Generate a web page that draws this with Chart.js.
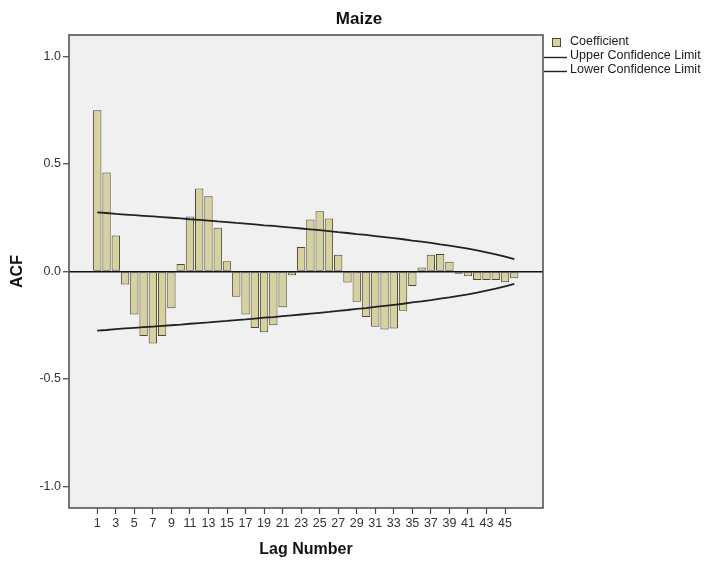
<!DOCTYPE html>
<html>
<head>
<meta charset="utf-8">
<script src="https://cdn.jsdelivr.net/npm/chart.js@4.4.1/dist/chart.umd.min.js"></script>
<style>
  html, body { margin: 0; padding: 0; background: #ffffff; }
  canvas { display: block; }
</style>
</head>
<body>
<canvas id="c" width="705" height="563"></canvas>
<script>
// ---- data ----
const chartTitle = "Maize";
const lags = [1,2,3,4,5,6,7,8,9,10,11,12,13,14,15,16,17,18,19,20,21,22,23,24,25,26,27,28,29,30,31,32,33,34,35,36,37,38,39,40,41,42,43,44,45,46];
const coefficient = [0.75, 0.46, 0.167, -0.06, -0.2, -0.3, -0.335, -0.3, -0.171, 0.035,
  0.256, 0.386, 0.35, 0.203, 0.048, -0.117, -0.2, -0.263, -0.283, -0.25,
  -0.166, -0.018, 0.114, 0.242, 0.28, 0.246, 0.078, -0.051, -0.141, -0.212,
  -0.257, -0.27, -0.265, -0.182, -0.067, 0.019, 0.078, 0.081, 0.045, -0.011,
  -0.022, -0.039, -0.039, -0.039, -0.05, -0.031];
const upperLimit = [0.275, 0.272, 0.268, 0.265, 0.262, 0.259, 0.256, 0.253, 0.250, 0.247,
  0.243, 0.240, 0.237, 0.233, 0.230, 0.226, 0.223, 0.219, 0.215, 0.212,
  0.208, 0.204, 0.200, 0.196, 0.192, 0.188, 0.183, 0.179, 0.174, 0.170,
  0.165, 0.160, 0.155, 0.150, 0.144, 0.139, 0.133, 0.126, 0.120, 0.113,
  0.106, 0.098, 0.089, 0.080, 0.069, 0.058];
const lowerLimit = [-0.275, -0.272, -0.268, -0.265, -0.262, -0.259, -0.256, -0.253, -0.250, -0.247,
  -0.243, -0.240, -0.237, -0.233, -0.230, -0.226, -0.223, -0.219, -0.215, -0.212,
  -0.208, -0.204, -0.200, -0.196, -0.192, -0.188, -0.183, -0.179, -0.174, -0.170,
  -0.165, -0.160, -0.155, -0.150, -0.144, -0.139, -0.133, -0.126, -0.120, -0.113,
  -0.106, -0.098, -0.089, -0.080, -0.069, -0.058];
const xTickValues = [1,3,5,7,9,11,13,15,17,19,21,23,25,27,29,31,33,35,37,39,41,43,45];
const yTickValues = [-1.0, -0.5, 0.0, 0.5, 1.0];
const seriesNames = ["Coefficient", "Upper Confidence Limit", "Lower Confidence Limit"];

// ---- styles ----
const FONT = "'Liberation Sans', Arial, sans-serif";
const BAR_FILL = '#d6d19e';
const BAR_EDGE = '#4a4838';
const LINE_COL = '#222222';

const decorPlugin = {
  id: 'decor',
  beforeDraw(chart) {
    const { ctx, chartArea: a } = chart;
    ctx.save();
    ctx.fillStyle = '#ffffff';
    ctx.fillRect(0, 0, chart.width, chart.height);
    ctx.fillStyle = '#f0f0f0';
    ctx.fillRect(a.left, a.top, a.right - a.left, a.bottom - a.top);
    ctx.restore();
  },
  afterDraw(chart) {
    const { ctx, chartArea: a } = chart;
    ctx.save();
    // plot frame
    ctx.strokeStyle = '#555555';
    ctx.lineWidth = 1.6;
    ctx.strokeRect(a.left, a.top, a.right - a.left, a.bottom - a.top);
    // title
    ctx.fillStyle = '#111111';
    ctx.font = 'bold 17px ' + FONT;
    ctx.textAlign = 'center';
    ctx.textBaseline = 'middle';
    ctx.fillText(chartTitle, 359, 19);
    // legend
    ctx.textAlign = 'left';
    ctx.font = '12.5px ' + FONT;
    ctx.fillStyle = BAR_FILL;
    ctx.strokeStyle = BAR_EDGE;
    ctx.lineWidth = 1;
    ctx.fillRect(552.5, 38.5, 8, 8);
    ctx.strokeRect(552.5, 38.5, 8, 8);
    ctx.strokeStyle = LINE_COL;
    ctx.lineWidth = 1.4;
    ctx.beginPath(); ctx.moveTo(544, 57.5); ctx.lineTo(567, 57.5); ctx.stroke();
    ctx.beginPath(); ctx.moveTo(544, 71.5); ctx.lineTo(567, 71.5); ctx.stroke();
    ctx.fillStyle = '#1a1a1a';
    ctx.fillText(seriesNames[0], 570, 42);
    ctx.fillText(seriesNames[1], 570, 56);
    ctx.fillText(seriesNames[2], 570, 70);
    ctx.restore();
  }
};

new Chart(document.getElementById('c'), {
  type: 'bar',
  data: {
    datasets: [
      {
        type: 'line',
        label: seriesNames[1],
        data: lags.map((l, i) => ({ x: l, y: upperLimit[i] })),
        borderColor: LINE_COL,
        borderWidth: 1.8,
        pointRadius: 0,
        fill: false,
        order: 0
      },
      {
        type: 'line',
        label: seriesNames[2],
        data: lags.map((l, i) => ({ x: l, y: lowerLimit[i] })),
        borderColor: LINE_COL,
        borderWidth: 1.8,
        pointRadius: 0,
        fill: false,
        order: 0
      },
      {
        type: 'bar',
        label: seriesNames[0],
        data: lags.map((l, i) => ({ x: l, y: coefficient[i] })),
        backgroundColor: BAR_FILL,
        borderColor: BAR_EDGE,
        borderWidth: 1,
        borderSkipped: false,
        barPercentage: 0.9,
        categoryPercentage: 1.0,
        order: 1
      }
    ]
  },
  options: {
    responsive: false,
    animation: false,
    devicePixelRatio: 1,
    layout: { padding: { top: 35, right: 162, left: 0, bottom: 0 } },
    plugins: {
      legend: { display: false },
      title: { display: false },
      tooltip: { enabled: false }
    },
    scales: {
      x: {
        type: 'linear',
        offset: false,
        min: -2.05,
        max: 49.1,
        afterBuildTicks(scale) { scale.ticks = xTickValues.map(v => ({ value: v })); },
        afterFit(scale) { scale.height = 55; },
        ticks: {
          autoSkip: false,
          maxRotation: 0,
          padding: 2,
          color: '#333333',
          font: { family: FONT, size: 12.5 },
          callback: v => String(v)
        },
        grid: { offset: false, drawOnChartArea: false, drawTicks: true, tickLength: 6, tickColor: '#444444', tickWidth: 1.2 },
        border: { display: false },
        title: {
          display: true,
          text: 'Lag Number',
          color: '#111111',
          font: { family: FONT, size: 16, weight: 'bold' },
          padding: { top: 0, bottom: 4 }
        }
      },
      y: {
        min: -1.1,
        max: 1.1,
        afterBuildTicks(scale) { scale.ticks = yTickValues.map(v => ({ value: v })); },
        afterFit(scale) { scale.width = 69; },
        ticks: {
          padding: 2,
          color: '#333333',
          font: { family: FONT, size: 12.5 },
          callback: v => Number(v).toFixed(1)
        },
        grid: {
          drawOnChartArea: true,
          drawTicks: true,
          tickLength: 6,
          tickColor: '#444444',
          tickWidth: 1.2,
          color: c => (c.tick && c.tick.value === 0 ? '#111111' : 'rgba(0,0,0,0)'),
          lineWidth: 1.5
        },
        border: { display: false },
        title: {
          display: true,
          text: 'ACF',
          color: '#111111',
          font: { family: FONT, size: 16, weight: 'bold' },
          padding: { top: 8, bottom: 0 }
        }
      }
    }
  },
  plugins: [decorPlugin]
});
</script>
</body>
</html>
